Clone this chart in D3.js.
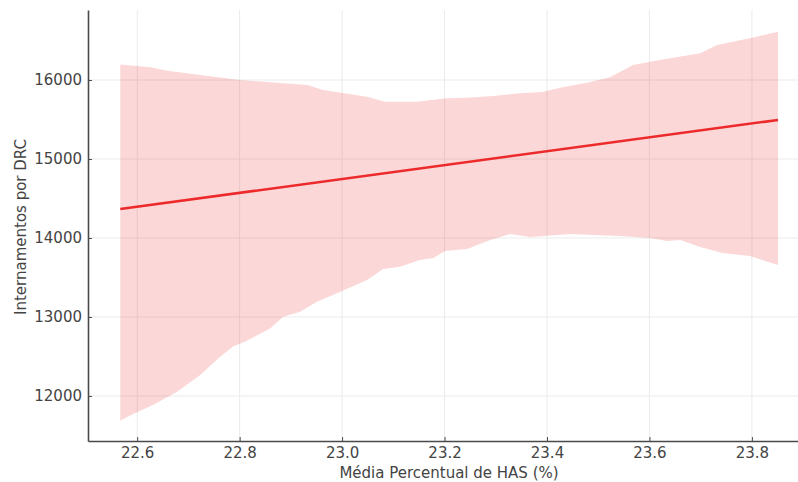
<!DOCTYPE html>
<html>
<head>
<meta charset="utf-8">
<script src="https://cdn.jsdelivr.net/npm/d3@7"></script>
<style>
  body { margin: 0; background: #fff; }
  svg { display: block; }
  text { font-family: "DejaVu Sans", sans-serif; }
</style>
</head>
<body>
<div id="chart"></div>
<script>
// tick values
const xTicks = [22.6, 22.8, 23.0, 23.2, 23.4, 23.6, 23.8];
const yTicks = [12000, 13000, 14000, 15000, 16000];

// regression line (ends)
const fitX = [22.567, 23.851];
const fitY = [14367, 15494];

// confidence band, upper edge
const upperX = [22.567, 22.625, 22.659, 22.723, 22.801, 22.860, 22.932, 22.963, 23.049, 23.084,
  23.146, 23.205, 23.244, 23.295, 23.347, 23.392, 23.425, 23.478, 23.523, 23.568,
  23.620, 23.699, 23.732, 23.796, 23.851];
const upperY = [16195, 16160, 16118, 16063, 16000, 15970, 15937, 15873, 15789, 15726,
  15726, 15768, 15776, 15797, 15831, 15848, 15903, 15966, 16034, 16190,
  16253, 16338, 16443, 16527, 16611];

// confidence band, lower edge
const lowerX = [22.567, 22.592, 22.631, 22.678, 22.723, 22.762, 22.787, 22.811, 22.860, 22.885,
  22.918, 22.951, 22.982, 23.049, 23.080, 23.113, 23.152, 23.178, 23.201, 23.244,
  23.289, 23.328, 23.367, 23.445, 23.542, 23.601, 23.634, 23.660, 23.699, 23.743,
  23.796, 23.851];
const lowerY = [11687, 11772, 11886, 12054, 12266, 12498, 12625, 12688, 12857, 13004,
  13067, 13194, 13278, 13468, 13608, 13637, 13722, 13747, 13835, 13861,
  13975, 14051, 14013, 14051, 14025, 14000, 13962, 13975, 13886, 13810,
  13772, 13658];

const W = 798, H = 482;
const margin = {top: 10, right: 0, bottom: 41, left: 88};
const width = W - margin.left - margin.right,
      height = H - margin.top - margin.bottom;

const svg = d3.select("#chart")
  .append("svg")
  .attr("width", W)
  .attr("height", H)
  .append("g")
  .attr("transform", `translate(${margin.left}, ${margin.top})`);

const x = d3.scaleLinear().domain([22.504, 23.89]).range([0, width]);
const y = d3.scaleLinear().domain([11430, 16886]).range([height, 0]);

// grid
svg.append("g").selectAll("line")
  .data(xTicks).join("line")
  .attr("x1", d => x(d)).attr("x2", d => x(d))
  .attr("y1", 0).attr("y2", height)
  .attr("stroke", "#ebebeb").attr("stroke-width", 1);
svg.append("g").selectAll("line")
  .data(yTicks).join("line")
  .attr("x1", 0).attr("x2", width)
  .attr("y1", d => y(d)).attr("y2", d => y(d))
  .attr("stroke", "#ebebeb").attr("stroke-width", 1);

// band: upper edge forward, lower edge backward
const upper = upperX.map((d, i) => [d, upperY[i]]);
const lower = lowerX.map((d, i) => [d, lowerY[i]]).reverse();
svg.append("path")
  .datum(upper.concat(lower))
  .attr("fill", "#f02020")
  .attr("fill-opacity", 0.18)
  .attr("d", d3.line().x(d => x(d[0])).y(d => y(d[1])).curve(d3.curveLinearClosed));

// fitted line
svg.append("path")
  .datum(fitX.map((d, i) => [d, fitY[i]]))
  .attr("fill", "none")
  .attr("stroke", "#ec2a2c")
  .attr("stroke-width", 2.5)
  .attr("d", d3.line().x(d => x(d[0])).y(d => y(d[1])));

// axes
const xAxis = svg.append("g")
  .attr("transform", `translate(0, ${height})`)
  .call(d3.axisBottom(x).tickValues(xTicks).tickFormat(d3.format(".1f"))
    .tickSize(-4).tickSizeOuter(0).tickPadding(6));
const yAxis = svg.append("g")
  .call(d3.axisLeft(y).tickValues(yTicks).tickFormat(d3.format("d"))
    .tickSize(-4).tickSizeOuter(0).tickPadding(6));

[xAxis, yAxis].forEach(a => {
  a.select(".domain").attr("stroke", "#4a4a4a").attr("stroke-width", 1.6);
  a.selectAll(".tick line").attr("stroke", "#4a4a4a");
  a.selectAll(".tick text").attr("fill", "#444").style("font-size", "15px");
});

// axis labels
svg.append("text")
  .attr("x", 449 - margin.left)
  .attr("y", 478 - margin.top)
  .attr("text-anchor", "middle")
  .attr("fill", "#444")
  .style("font-size", "15px")
  .text("Média Percentual de HAS (%)");

svg.append("text")
  .attr("transform", `translate(${26 - margin.left}, ${227 - margin.top}) rotate(-90)`)
  .attr("text-anchor", "middle")
  .attr("fill", "#444")
  .style("font-size", "15px")
  .text("Internamentos por DRC");
</script>
</body>
</html>
